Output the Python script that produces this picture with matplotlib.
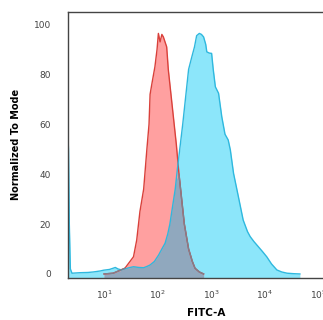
import numpy as np
import matplotlib
matplotlib.use('Agg')
import matplotlib.pyplot as plt

plt.rcParams['font.family'] = ['DejaVu Sans']

# log10(FITC-A) positions and % of mode
red_log = [1.00, 1.17, 1.39, 1.55, 1.61, 1.67, 1.74, 1.80, 1.84, 1.86, 1.90, 1.95, 1.99,
           2.015, 2.047, 2.08, 2.108, 2.17, 2.20, 2.25, 2.30, 2.35, 2.40, 2.45, 2.50,
           2.58, 2.65, 2.70, 2.78, 2.86]
red_val = [0, 0.3, 2.3, 6.9, 13.6, 25, 34, 50, 60, 72, 77, 83, 90,
           96.4, 93, 96, 95, 91, 82, 72, 62, 52, 40, 30, 20,
           10, 5, 2.3, 0.8, 0]

blue_log = [0.32, 0.335, 0.35, 0.37, 0.40, 0.55, 0.70, 0.80, 0.93, 0.99, 1.10, 1.17, 1.21,
            1.26, 1.33, 1.45, 1.55, 1.65, 1.74, 1.80, 1.86, 1.94, 2.02, 2.08, 2.14, 2.19,
            2.23, 2.28, 2.33, 2.37, 2.42, 2.47, 2.51, 2.55, 2.58, 2.64, 2.69, 2.73, 2.78,
            2.82, 2.86, 2.90, 2.92, 2.97, 3.01, 3.04, 3.08, 3.14, 3.20, 3.26, 3.32, 3.36,
            3.42, 3.51, 3.60, 3.68, 3.73, 3.80, 3.88, 3.96, 4.04, 4.13, 4.23, 4.32, 4.42,
            4.55, 4.66]
blue_val = [57, 50, 20, 2, 0.3, 0.5, 0.6, 0.8, 1.2, 1.5, 1.8, 2.3, 2.6,
            2.0, 1.6, 2.4, 2.9, 2.6, 2.5, 3.0, 3.6, 5.0, 7.6, 10, 12.3, 16,
            20, 27, 34, 42, 51, 60, 68, 76, 82, 87, 91, 95.5, 96.4,
            96, 95, 92, 89, 88.5, 88.4, 82, 75, 72.4, 63, 56, 53.7, 49.7,
            40.3, 31, 21.6, 17, 15, 13, 11, 9, 6.9, 4, 1.6, 0.8, 0.3,
            0.1, 0]

x_ticks = [1, 2, 3, 4, 5]
y_ticks = [0, 20, 40, 60, 80, 100]

red_x = 10 ** np.array(red_log)
blue_x = 10 ** np.array(blue_log)
red_y = np.array(red_val)
blue_y = np.array(blue_val)
# where both histograms cover each other
blue_at_red = np.interp(red_x, blue_x, blue_y)
both_y = np.minimum(red_y, blue_at_red)

fig = plt.figure(figsize=(3.23, 3.2), dpi=100)
ax = fig.add_axes([0.2096, 0.1322, 0.858, 0.8312])

base = -1.5
ax.fill_between(blue_x, base, blue_y, color='#8ce6fa', lw=0)
ax.fill_between(red_x, base, red_y, color='#ffa0a0', lw=0)
ax.fill_between(red_x, base, both_y, color='#90a8be', lw=0)
ax.plot(red_x, red_y, color='#d9403a', lw=1.0)
ax.plot(blue_x, blue_y, color='#2fb8de', lw=1.0)
# red outline turns grey where it runs inside the blue fill
inside = red_y <= blue_at_red + 0.5
ax.plot(np.where(inside, red_x, np.nan), np.where(inside, red_y, np.nan),
        color='#7f7f8c', lw=1.0)

ax.set_xscale('log')
ax.set_xlim(10 ** 0.32, 10 ** 5.5)
ax.set_ylim(base, 105.1)
ax.set_xticks([10 ** t for t in x_ticks])
ax.set_xticklabels([r'$10^{%d}$' % t for t in x_ticks])
ax.minorticks_off()
ax.set_yticks(y_ticks)
ax.set_yticklabels([str(t) for t in y_ticks])
ax.tick_params(axis='both', length=0, labelsize=6.5, colors='#444444')
ax.tick_params(axis='y', pad=12)
ax.tick_params(axis='x', pad=8)

for s in ax.spines.values():
    s.set_color('#444444')
    s.set_linewidth(1.0)

ax.set_xlabel('FITC-A', fontsize=7.5, fontweight='bold', labelpad=5)
ax.set_ylabel('Normalized To Mode', fontsize=7, fontweight='bold', labelpad=9)

fig.savefig('out.png', dpi=100)
